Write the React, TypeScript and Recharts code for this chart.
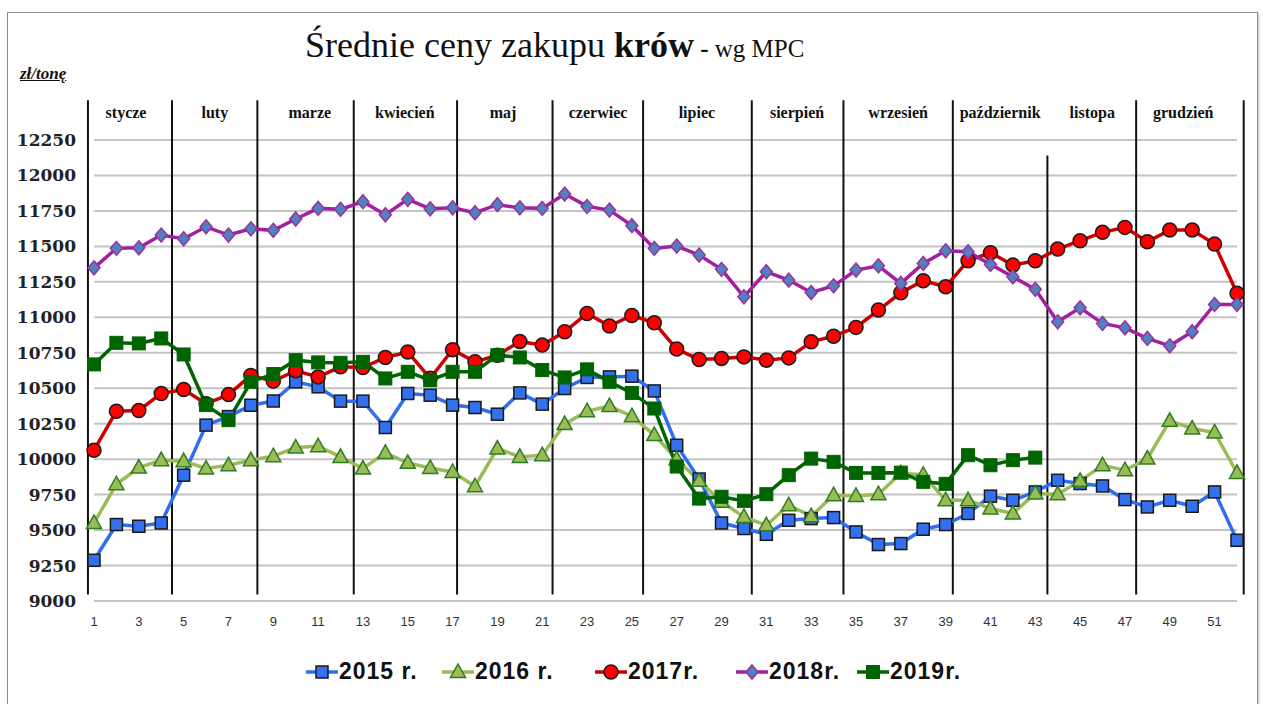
import React from 'react'
import { LineChart, Line, XAxis, YAxis, CartesianGrid, ReferenceLine } from 'recharts'

const weeks = Array.from({ length: 52 }, (_, i) => i + 1)

const y2015 = [
  9287, 9539, 9527, 9550, 9887, 10240, 10300, 10380, 10410, 10545,
  10510, 10409, 10409, 10223, 10463, 10451, 10381, 10364, 10317, 10467,
  10388, 10498, 10576, 10580, 10585, 10481, 10098, 9860, 9550, 9511,
  9470, 9569, 9581, 9588, 9487, 9398, 9405, 9506, 9539, 9617,
  9739, 9710, 9769, 9851, 9828, 9811, 9715, 9663, 9710, 9668,
  9769, 9428,
]
const y2016 = [
  9550, 9823, 9941, 9993, 9986, 9934, 9957, 9993, 10021, 10082,
  10091, 10016, 9934, 10044, 9974, 9938, 9910, 9809, 10075, 10016,
  10028, 10247, 10338, 10374, 10303, 10170, 10000, 9847, 9700, 9593,
  9534, 9675, 9598, 9746, 9741, 9753, 9900, 9890, 9710, 9710,
  9652, 9617, 9758, 9753, 9847, 9957, 9922, 10004, 10270, 10216,
  10188, 9903,
]
const y2017 = [
  10063, 10338, 10343, 10463, 10491, 10390, 10455, 10590, 10550, 10623,
  10580, 10651, 10646, 10717, 10755, 10570, 10772, 10686, 10733, 10830,
  10804, 10898, 11027, 10938, 11013, 10961, 10776, 10703, 10710, 10721,
  10698, 10714, 10827, 10867, 10929, 11051, 11173, 11258, 11215, 11399,
  11455, 11368, 11399, 11481, 11540, 11599, 11634, 11533, 11615, 11615,
  11516, 11169,
]
const y2018 = [
  11349, 11486, 11490, 11580, 11554, 11638, 11580, 11624, 11613, 11693,
  11768, 11761, 11815, 11723, 11832, 11765, 11772, 11737, 11794, 11772,
  11768, 11869, 11782, 11756, 11646, 11486, 11502, 11439, 11338, 11145,
  11321, 11262, 11175, 11222, 11333, 11363, 11239, 11380, 11469, 11462,
  11373, 11286, 11197, 10968, 11067, 10957, 10926, 10851, 10799, 10898,
  11091, 11091,
]
const y2019 = [
  10668, 10820, 10816, 10851, 10738, 10381, 10275, 10545, 10600, 10698,
  10682, 10679, 10686, 10569, 10616, 10557, 10616, 10616, 10733, 10717,
  10628, 10576, 10633, 10545, 10467, 10357, 9948, 9722, 9735, 9706,
  9753, 9887, 10004, 9981, 9903, 9903, 9905, 9840, 9826, 10028,
  9957, 9993, 10011,
]

const xTicks = [1, 3, 5, 7, 9, 11, 13, 15, 17, 19, 21, 23, 25, 27, 29, 31, 33, 35, 37, 39, 41, 43, 45, 47, 49, 51]
const yTicks = [9000, 9250, 9500, 9750, 10000, 10250, 10500, 10750, 11000, 11250, 11500, 11750, 12000, 12250]

const monthNames = ['stycze', 'luty', 'marze', 'kwiecień', 'maj', 'czerwiec', 'lipiec', 'sierpień', 'wrzesień', 'październik', 'listopa', 'grudzień']
const monthCenters = [2.43, 6.39, 10.63, 14.87, 19.25, 23.49, 27.9, 32.37, 36.88, 41.43, 45.54, 49.6]
// month divider positions (in weeks) and where each divider starts at the top
const monthBounds = [0.73, 4.48, 8.29, 12.59, 17.2, 21.46, 25.5, 30.35, 34.44, 39.32, 43.54, 47.5, 52.3]
const boundTops = [12530, 12530, 12530, 12530, 12530, 12530, 12530, 12530, 12530, 12530, 12140, 12530, 12530]

const data = weeks.map((w, i) => ({
  week: w,
  s2015: y2015[i],
  s2016: y2016[i],
  s2017: y2017[i],
  s2018: y2018[i],
  s2019: i < y2019.length ? y2019[i] : null,
}))

type Marker = 'square' | 'triangle' | 'circle' | 'diamond' | 'bigsquare'

const drawMarker = (kind: Marker, cx: number, cy: number, key?: string) => {
  switch (kind) {
    case 'square':
      return <rect key={key} x={cx - 6} y={cy - 6} width={12} height={12} fill="#3370f0" stroke="#1a1a1a" strokeWidth={1.5} />
    case 'bigsquare':
      return <rect key={key} x={cx - 6.5} y={cy - 6.5} width={13} height={13} fill="#006400" stroke="#006400" strokeWidth={1} />
    case 'triangle':
      return (
        <path key={key} d={`M${cx},${cy - 8}L${cx + 7.5},${cy + 5.5}L${cx - 7.5},${cy + 5.5}Z`}
          fill="#9bbb59" stroke="#2e7d1e" strokeWidth={1.5} />
      )
    case 'circle':
      return <circle key={key} cx={cx} cy={cy} r={7} fill="#ff0000" stroke="#1a1a1a" strokeWidth={1.5} />
    case 'diamond':
      return (
        <path key={key} d={`M${cx},${cy - 7}L${cx + 6},${cy}L${cx},${cy + 7}L${cx - 6},${cy}Z`}
          fill="#4f81bd" stroke="#9b30a0" strokeWidth={1.5} />
      )
  }
}

const dotFor = (kind: Marker, name: string) => (p: any) => {
  const key = `${name}-${p.index}`
  if (p.cx == null || p.cy == null || p.value == null) return <g key={key} />
  return drawMarker(kind, p.cx, p.cy, key)
}

const MonthTick = (props: any) => {
  const { x, y, payload } = props
  const name = monthNames[monthCenters.indexOf(payload.value)] ?? ''
  return (
    <text x={x} y={y} textAnchor="middle" fill="#111" fontSize={16} fontWeight={700}
      fontFamily='"Liberation Serif", serif'>
      {name}
    </text>
  )
}

const series = [
  { key: 's2015', label: '2015 r.', color: '#2f6ef2', marker: 'square' as Marker, left: 306 },
  { key: 's2016', label: '2016 r.', color: '#9bbb59', marker: 'triangle' as Marker, left: 442 },
  { key: 's2017', label: '2017r.', color: '#cc0000', marker: 'circle' as Marker, left: 595 },
  { key: 's2018', label: '2018r.', color: '#a020a0', marker: 'diamond' as Marker, left: 736 },
  { key: 's2019', label: '2019r.', color: '#006400', marker: 'bigsquare' as Marker, left: 857 },
]

const Legend = () => (
  <>
    {series.map(s => (
      <div key={s.key} style={{ position: 'absolute', left: s.left, top: 658, display: 'flex', alignItems: 'center' }}>
        <svg width={32} height={20}>
          <line x1={0} y1={10} x2={32} y2={10} stroke={s.color} strokeWidth={3.5} />
          {drawMarker(s.marker, 16, 10)}
        </svg>
        <span style={{ fontFamily: '"Liberation Sans Narrow", "Liberation Sans", sans-serif', fontWeight: 700, fontSize: 23, letterSpacing: 1, color: '#111', marginLeft: 1 }}>
          {s.label}
        </span>
      </div>
    ))}
  </>
)

export default function App() {
  return (
    <div style={{ position: 'absolute', left: 0, top: 0, width: 1263, height: 704, background: '#fff', overflow: 'hidden' }}>
      <div style={{ position: 'absolute', left: 7, top: 12, width: 1249, height: 720, border: '1px solid #8c8c8c', boxShadow: '1px 1px 2px #bbb' }} />
      <div style={{ position: 'absolute', left: 305, top: 24, fontFamily: '"Liberation Serif", serif', fontSize: 36, color: '#111', whiteSpace: 'nowrap' }}>
        Średnie ceny zakupu <b>krów</b>
        <span style={{ fontSize: 25 }}> <b>-</b> wg MPC</span>
      </div>
      <div style={{ position: 'absolute', left: 20, top: 64, fontFamily: '"Liberation Serif", serif', fontSize: 17, fontWeight: 700, fontStyle: 'italic', textDecoration: 'underline', color: '#111' }}>
        zł/tonę
      </div>
      <LineChart width={1263} height={704} data={data} margin={{ top: 110, right: 26, bottom: 73, left: 24 }} style={{ position: 'absolute', left: 0, top: 0 }}>
        <CartesianGrid vertical={false} stroke="#c4c4c4" strokeWidth={2} />
        <XAxis
          dataKey="week"
          type="number"
          domain={[1, 52]}
          ticks={xTicks}
          interval={0}
          height={30}
          axisLine={false}
          tickLine={false}
          tickMargin={10}
          tick={{ fill: '#333', fontSize: 13, fontFamily: '"Liberation Sans", sans-serif' }}
        />
        <XAxis
          xAxisId="months"
          dataKey="week"
          orientation="top"
          type="number"
          domain={[1, 52]}
          allowDataOverflow
          ticks={monthCenters}
          interval={0}
          height={30}
          axisLine={false}
          tickLine={false}
          tickMargin={16}
          tick={<MonthTick />}
        />
        <YAxis
          type="number"
          domain={[9000, 12250]}
          ticks={yTicks}
          interval={0}
          width={70}
          axisLine={false}
          tickLine={false}
          tickMargin={12}
          tick={{ fill: '#222', fontSize: 17, fontWeight: 700, fontFamily: '"DejaVu Serif", serif' }}
        />
        {monthBounds.map((b, i) => (
          <ReferenceLine
            key={b}
            segment={[{ x: b, y: boundTops[i] }, { x: b, y: 9045 }]}
            ifOverflow="visible"
            stroke="#111"
            strokeWidth={2}
          />
        ))}
        {series.map(s => (
          <Line
            key={s.key}
            dataKey={s.key}
            type="linear"
            stroke={s.color}
            strokeWidth={3.5}
            dot={dotFor(s.marker, s.key)}
            activeDot={false}
            connectNulls={false}
            isAnimationActive={false}
          />
        ))}
      </LineChart>
      <Legend />
    </div>
  )
}
